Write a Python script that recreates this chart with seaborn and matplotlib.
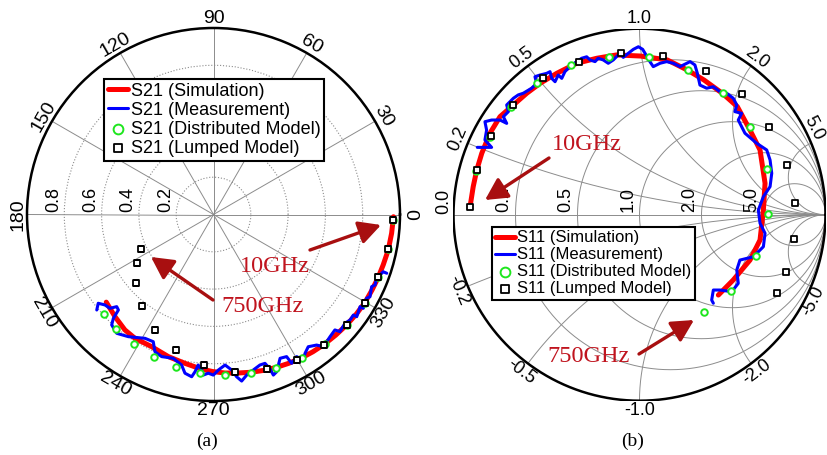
import numpy as np
import pandas as pd
import seaborn as sns
import matplotlib.pyplot as plt

s21_sim_re = [0.965, 0.955, 0.937, 0.910, 0.882, 0.850, 0.812, 0.765, 0.712, 0.655,
              0.594, 0.533, 0.470, 0.403, 0.336, 0.268, 0.200, 0.130, 0.062, -0.005,
              -0.068, -0.153, -0.242, -0.331, -0.421, -0.475, -0.528, -0.575]
s21_sim_im = [-0.012, -0.101, -0.190, -0.270, -0.340, -0.405, -0.472, -0.535, -0.594, -0.647,
              -0.696, -0.736, -0.770, -0.798, -0.820, -0.836, -0.846, -0.850, -0.850, -0.842,
              -0.828, -0.798, -0.762, -0.709, -0.664, -0.619, -0.548, -0.470]

s21_meas_re = [0.929, 0.910, 0.893, 0.875, 0.866, 0.848, 0.839, 0.821, 0.803, 0.786,
               0.768, 0.750, 0.732, 0.705, 0.678, 0.651, 0.625, 0.589, 0.553, 0.508,
               0.491, 0.481, 0.446, 0.419, 0.392, 0.357, 0.339, 0.321, 0.303, 0.276,
               0.249, 0.213, 0.178, 0.151, 0.124, 0.098, 0.062, 0.026, -0.001, -0.028,
               -0.055, -0.063, -0.082, -0.099, -0.117, -0.153, -0.171, -0.216, -0.278, -0.314,
               -0.323, -0.367, -0.457, -0.519, -0.546, -0.537, -0.510, -0.519, -0.555, -0.582,
               -0.618, -0.626]
s21_meas_im = [-0.315, -0.307, -0.324, -0.342, -0.378, -0.387, -0.441, -0.449, -0.503, -0.494,
               -0.548, -0.539, -0.566, -0.583, -0.628, -0.619, -0.655, -0.709, -0.700, -0.709,
               -0.744, -0.780, -0.762, -0.798, -0.762, -0.771, -0.843, -0.861, -0.828, -0.798,
               -0.807, -0.834, -0.861, -0.893, -0.870, -0.834, -0.807, -0.834, -0.861, -0.851,
               -0.861, -0.834, -0.807, -0.843, -0.870, -0.851, -0.807, -0.771, -0.762, -0.736,
               -0.682, -0.664, -0.655, -0.637, -0.592, -0.557, -0.512, -0.494, -0.503, -0.485,
               -0.476, -0.512]

s21_dist_re = [0.964, 0.938, 0.884, 0.813, 0.714, 0.598, 0.473, 0.336, 0.200, 0.063,
               -0.071, -0.200, -0.318, -0.425, -0.521, -0.589]
s21_dist_im = [-0.027, -0.184, -0.336, -0.473, -0.595, -0.693, -0.768, -0.821, -0.852, -0.861,
               -0.848, -0.816, -0.763, -0.693, -0.613, -0.532]

s21_lump_re = [0.964, 0.938, 0.884, 0.813, 0.714, 0.593, 0.446, 0.289, 0.116, -0.050,
               -0.200, -0.316, -0.384, -0.414, -0.411, -0.388]
s21_lump_im = [-0.027, -0.184, -0.336, -0.473, -0.595, -0.700, -0.780, -0.830, -0.843, -0.807,
               -0.729, -0.620, -0.491, -0.366, -0.259, -0.184]

# ---------- panel (b): S11 (reflection coefficient) ----------
s11_sim_re = [-0.911, -0.894, -0.875, -0.848, -0.804, -0.750, -0.678, -0.606, -0.535, -0.445,
              -0.338, -0.230, -0.123, 0.006, 0.149, 0.257, 0.347, 0.445, 0.526, 0.594,
              0.648, 0.675, 0.666, 0.648, 0.594, 0.504, 0.424]
s11_sim_im = [0.043, 0.151, 0.240, 0.330, 0.438, 0.527, 0.590, 0.653, 0.706, 0.760,
              0.814, 0.841, 0.859, 0.853, 0.832, 0.778, 0.724, 0.653, 0.581, 0.455,
              0.348, 0.169, 0.025, -0.136, -0.244, -0.351, -0.432]

s11_meas_re = [-0.872, -0.795, -0.831, -0.822, -0.831, -0.795, -0.750, -0.714, -0.732, -0.705,
               -0.714, -0.678, -0.652, -0.625, -0.580, -0.553, -0.562, -0.535, -0.499, -0.481,
               -0.472, -0.454, -0.437, -0.418, -0.401, -0.374, -0.338, -0.311, -0.284, -0.266,
               -0.239, -0.222, -0.195, -0.168, -0.141, -0.105, -0.087, -0.060, -0.033, -0.006,
               0.017, 0.035, 0.056, 0.074, 0.110, 0.146, 0.182, 0.218, 0.272, 0.298,
               0.311, 0.325, 0.361, 0.397, 0.433, 0.469, 0.504, 0.523, 0.513, 0.549,
               0.531, 0.567, 0.630, 0.684, 0.702, 0.711, 0.702, 0.666, 0.639, 0.648,
               0.675, 0.666, 0.612, 0.540, 0.523, 0.531, 0.496, 0.433, 0.397, 0.388,
               0.397]
s11_meas_im = [0.362, 0.362, 0.402, 0.455, 0.500, 0.509, 0.509, 0.491, 0.527, 0.554,
               0.590, 0.626, 0.644, 0.653, 0.680, 0.706, 0.742, 0.751, 0.760, 0.769,
               0.733, 0.715, 0.751, 0.733, 0.769, 0.796, 0.823, 0.841, 0.849, 0.832,
               0.823, 0.841, 0.832, 0.814, 0.832, 0.868, 0.846, 0.868, 0.889, 0.903,
               0.889, 0.859, 0.823, 0.796, 0.814, 0.823, 0.814, 0.796, 0.823, 0.805,
               0.760, 0.697, 0.680, 0.688, 0.661, 0.653, 0.626, 0.590, 0.554, 0.545,
               0.509, 0.438, 0.384, 0.348, 0.294, 0.223, 0.151, 0.097, 0.025, -0.046,
               -0.100, -0.172, -0.226, -0.244, -0.297, -0.369, -0.414, -0.405, -0.405, -0.459,
               -0.476]

s11_dist_re = [-0.881, -0.804, -0.693, -0.549, -0.370, -0.164, 0.051, 0.260, 0.451, 0.594,
               0.684, 0.692, 0.625, 0.490, 0.347]
s11_dist_im = [0.237, 0.419, 0.577, 0.706, 0.805, 0.849, 0.846, 0.778, 0.652, 0.470,
               0.244, 0.004, -0.224, -0.410, -0.523]

s11_lump_re = [-0.911, -0.875, -0.800, -0.682, -0.517, -0.324, -0.099, 0.128, 0.356, 0.551,
               0.698, 0.795, 0.836, 0.831, 0.788, 0.738]
s11_lump_im = [0.043, 0.240, 0.423, 0.590, 0.733, 0.823, 0.868, 0.855, 0.774, 0.647,
               0.470, 0.267, 0.061, -0.132, -0.306, -0.423]

angle_ticks = list(range(0, 360, 30))
radius_ticks = [0.2, 0.4, 0.6, 0.8]
smith_values = [0.2, 0.5, 1.0, 2.0, 5.0]

RED = '#ff0000'
BLUE = '#0000ff'
GREEN = '#1ee61e'
GRID = '#8c8c8c'
TXT_RED = '#c0141e'
ARROW_RED = '#a80f10'

sns.set_style('white')
plt.rcParams['font.family'] = ['Liberation Sans', 'DejaVu Sans']
plt.rcParams['text.color'] = 'black'

W, H = 827, 455
fig = plt.figure(figsize=(W / 100, H / 100), dpi=100)


def polar_df(re, im):
    z = np.array(re) + 1j * np.array(im)
    return pd.DataFrame({'theta': np.angle(z), 'r': np.abs(z)})


def cart_df(re, im):
    return pd.DataFrame({'re': re, 'im': im})


def fxy(x, y):
    return (x / W, 1 - y / H)


def draw_series(ax, frames, x, y, name):
    sim, meas, dist, lump = frames
    sns.lineplot(data=sim, x=x, y=y, sort=False, estimator=None, color=RED, lw=3.6,
                 ax=ax, label=f'{name} (Simulation)', zorder=3)
    sns.lineplot(data=meas, x=x, y=y, sort=False, estimator=None, color=BLUE, lw=2.2,
                 ax=ax, label=f'{name} (Measurement)', zorder=4)
    sns.scatterplot(data=dist, x=x, y=y, marker='o', s=22, color='white', edgecolor=GREEN,
                    linewidth=1.4, ax=ax, label=f'{name} (Distributed Model)', zorder=5)
    sns.scatterplot(data=lump, x=x, y=y, marker='s', s=17, color='white', edgecolor='black',
                    linewidth=1.3, ax=ax, label=f'{name} (Lumped Model)', zorder=6)


def arrow(ax, tail, tip):
    ax.annotate('', xy=fxy(*tip), xytext=fxy(*tail), xycoords='figure fraction',
                textcoords='figure fraction', zorder=10,
                arrowprops=dict(arrowstyle='-|>,head_length=0.95,head_width=0.5',
                                lw=2.4, color=ARROW_RED, mutation_scale=14,
                                shrinkA=0, shrinkB=0))


def legend(ax, x, y, size):
    leg = ax.legend(loc='upper left', bbox_to_anchor=fxy(x, y), bbox_transform=fig.transFigure,
                    fontsize=size, frameon=True, fancybox=False, edgecolor='black',
                    framealpha=1, borderpad=0.2, labelspacing=0.12, handlelength=1.15,
                    handletextpad=0.15, borderaxespad=0, markerscale=1.5)
    leg.get_frame().set_linewidth(1.5)
    leg.set_zorder(20)


# ---------------- (a) polar plot of S21 ----------------
ax1 = fig.add_axes([27 / W, 54 / H, 373 / W, 373 / H], projection='polar')
draw_series(ax1, [polar_df(s21_sim_re, s21_sim_im), polar_df(s21_meas_re, s21_meas_im),
                  polar_df(s21_dist_re, s21_dist_im), polar_df(s21_lump_re, s21_lump_im)],
            'theta', 'r', 'S21')
ax1.set_ylim(0, 1)
ax1.set_xticks(np.deg2rad(angle_ticks))
ax1.set_xticklabels([])
ax1.set_yticks(radius_ticks)
ax1.set_yticklabels([])
ax1.tick_params(length=0)
ax1.xaxis.grid(True, color=GRID, lw=0.7, ls='-')
ax1.yaxis.grid(True, color=GRID, lw=0.8, ls=':')
ax1.set_axisbelow(True)
ax1.spines['polar'].set_color('black')
ax1.spines['polar'].set_linewidth(1.8)
ax1.set_xlabel('')
ax1.set_ylabel('')

for deg in angle_ticks:
    rot = deg - 90 if deg <= 180 else deg - 270
    ax1.text(np.deg2rad(deg), 1.05, str(deg), rotation=rot, rotation_mode='anchor',
             ha='center', va='center', fontsize=14)
for v in radius_ticks:
    ax1.annotate(f'{v:.1f}', xy=(np.pi, v), xytext=(-7.8, 11), textcoords='offset points',
                 rotation=90, ha='center', va='center', fontsize=13)

legend(ax1, 104, 79, 13)

fig.text(*fxy(275, 266), '10GHz', ha='center', va='center', fontsize=17.5,
         family='Liberation Serif', color=TXT_RED)
fig.text(*fxy(263, 306), '750GHz', ha='center', va='center', fontsize=17.5,
         family='Liberation Serif', color=TXT_RED)
arrow(ax1, (310, 250), (381, 225))
arrow(ax1, (213, 300), (151, 257))

# ---------------- (b) Smith chart of S11 ----------------
ax2 = fig.add_axes([453.5 / W, 54.3 / H, 372 / W, 372 / H])
t = np.linspace(0, 2 * np.pi, 1441)
for r in smith_values:
    c, a = r / (1 + r), 1 / (1 + r)
    ax2.plot(c + a * np.cos(t), a * np.sin(t), color=GRID, lw=0.7, zorder=1)
for x in smith_values:
    for s in (1, -1):
        px = 1 + np.cos(t) / x
        py = s / x + np.sin(t) / x
        outside = px ** 2 + py ** 2 > 1.0001
        px[outside] = np.nan
        py[outside] = np.nan
        ax2.plot(px, py, color=GRID, lw=0.7, zorder=1)
ax2.plot([-1, 1], [0, 0], color=GRID, lw=0.7, zorder=1)
ax2.plot(np.cos(t), np.sin(t), color='black', lw=1.8, zorder=2)

draw_series(ax2, [cart_df(s11_sim_re, s11_sim_im), cart_df(s11_meas_re, s11_meas_im),
                  cart_df(s11_dist_re, s11_dist_im), cart_df(s11_lump_re, s11_lump_im)],
            're', 'im', 'S11')
ax2.set_xlim(-1, 1)
ax2.set_ylim(-1, 1)
ax2.set_aspect('equal')
ax2.axis('off')

for x in smith_values:
    phi = 180 - 2 * np.degrees(np.arctan(x))
    rad = 1.055
    if x == 5.0:
        # right edge of the figure: slide these labels a little along the rim
        phi, rad = 26.5, 1.045
    for s in (1, -1):
        a = np.deg2rad(s * phi)
        lab = f'{x:.1f}' if s > 0 else f'-{x:.1f}'
        rot = s * phi - 90 if s > 0 else s * phi + 90
        ax2.text(rad * np.cos(a), rad * np.sin(a), lab, rotation=rot,
                 rotation_mode='anchor', ha='center', va='center', fontsize=13)
ax2.text(1.053 * np.cos(np.deg2rad(176)), 1.053 * np.sin(np.deg2rad(176)), '0.0',
         rotation=90, rotation_mode='anchor', ha='center', va='center', fontsize=13)
for r in smith_values:
    ax2.annotate(f'{r:.1f}', xy=((r - 1) / (r + 1), 0), xytext=(-8.3, 10.6),
                 textcoords='offset points', rotation=90, ha='center', va='center',
                 fontsize=13)

legend(ax2, 492, 227, 12)

fig.text(*fxy(587, 144), '10GHz', ha='center', va='center', fontsize=17.5,
         family='Liberation Serif', color=TXT_RED)
fig.text(*fxy(589, 357), '750GHz', ha='center', va='center', fontsize=17.5,
         family='Liberation Serif', color=TXT_RED)
arrow(ax2, (549, 158), (485, 200))
arrow(ax2, (639, 354), (694, 320))

fig.text(*fxy(207, 441), '(a)', ha='center', va='center', fontsize=14, family='Liberation Serif')
fig.text(*fxy(633, 441), '(b)', ha='center', va='center', fontsize=14, family='Liberation Serif')

fig.savefig('out.png', dpi=100)
